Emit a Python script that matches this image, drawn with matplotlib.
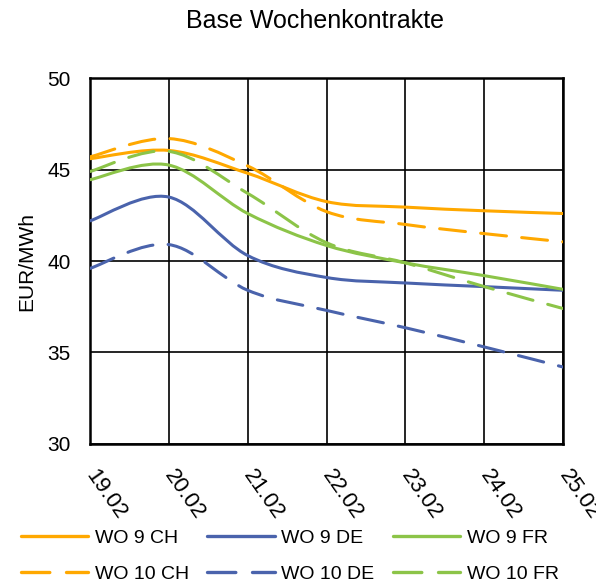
import numpy as np
import matplotlib.pyplot as plt
from matplotlib.path import Path
from matplotlib.patches import PathPatch
from matplotlib.lines import Line2D

plt.rcParams['font.family'] = ['Liberation Sans', 'DejaVu Sans']

# Data
dates = ['19.02', '20.02', '21.02', '22.02', '23.02', '24.02', '25.02']
wo9_ch = [45.6, 46.05, 44.8, 43.25, 42.95, 42.75, 42.6]
wo9_de = [42.2, 43.5, 40.3, 39.1, 38.8, 38.6, 38.4]
wo9_fr = [44.45, 45.25, 42.6, 40.85, 39.9, 39.2, 38.45]
wo10_ch = [45.7, 46.7, 45.2, 42.7, 42.0, 41.5, 41.05]
wo10_de = [39.6, 40.9, 38.4, 37.3, 36.35, 35.3, 34.2]
wo10_fr = [44.9, 46.0, 43.7, 41.0, 39.9, 38.6, 37.4]

orange = '#FFA800'
blue = '#4A63AC'
green = '#8CC448'


def smooth_path(xs, ys):
    # Excel-style smoothed line as bezier segments (Catmull-Rom control points)
    xs = np.asarray(xs, float)
    ys = np.asarray(ys, float)
    n = len(xs)
    verts = [(xs[0], ys[0])]
    codes = [Path.MOVETO]
    t = 1.0 / 6
    for i in range(n - 1):
        p0 = i - 1 if i > 0 else i
        p3 = i + 2 if i + 2 < n else i + 1
        c1 = (xs[i] + (xs[i + 1] - xs[p0]) * t, ys[i] + (ys[i + 1] - ys[p0]) * t)
        c2 = (xs[i + 1] - (xs[p3] - xs[i]) * t, ys[i + 1] - (ys[p3] - ys[i]) * t)
        verts += [c1, c2, (xs[i + 1], ys[i + 1])]
        codes += [Path.CURVE4] * 3
    return Path(verts, codes)


fig = plt.figure(figsize=(5.96, 5.84), dpi=100)
ax = fig.add_axes([0.151, 0.240, 0.794, 0.626])

x = np.arange(len(dates))
dash = (0, (8.5, 5))
# order chosen so the 3-column legend fills row by row
series = [
    (wo9_ch, orange, '-', 'WO 9 CH'),
    (wo10_ch, orange, dash, 'WO 10 CH'),
    (wo9_de, blue, '-', 'WO 9 DE'),
    (wo10_de, blue, dash, 'WO 10 DE'),
    (wo9_fr, green, '-', 'WO 9 FR'),
    (wo10_fr, green, dash, 'WO 10 FR'),
]

handles = []
for vals, col, ls, lab in series:
    patch = PathPatch(smooth_path(x, vals), facecolor='none', edgecolor=col,
                      linewidth=2.2, linestyle=ls, capstyle='round', zorder=3)
    ax.add_patch(patch)
    handles.append(Line2D([], [], color=col, linewidth=2.4, linestyle=ls,
                          dash_capstyle='round', solid_capstyle='round', label=lab))

ax.set_xlim(0, len(dates) - 1)
ax.set_ylim(30, 50)
ax.set_yticks([30, 35, 40, 45, 50])
ax.set_xticks(x)
ax.set_xticklabels(dates, rotation=-55, ha='left', va='center', rotation_mode='anchor')
ax.tick_params(axis='both', length=0, labelsize=15)
ax.tick_params(axis='x', labelsize=16, pad=20)
ax.tick_params(axis='y', pad=14)
ax.grid(True, color='black', linewidth=1.2)
ax.set_axisbelow(True)
for s in ax.spines.values():
    s.set_linewidth(1.8)
ax.set_ylabel('EUR/MWh', fontsize=15, labelpad=8)
ax.set_title('Base Wochenkontrakte', fontsize=18, pad=36, x=0.476)

fig.legend(handles=handles, loc='upper left', ncol=3, frameon=False,
           fontsize=14, handlelength=3.45, columnspacing=0.95, handletextpad=0.35,
           borderpad=0, borderaxespad=0, labelspacing=0.98,
           bbox_to_anchor=(21 / 596, 1 - 529 / 584))

fig.savefig('out.png', dpi=100)
